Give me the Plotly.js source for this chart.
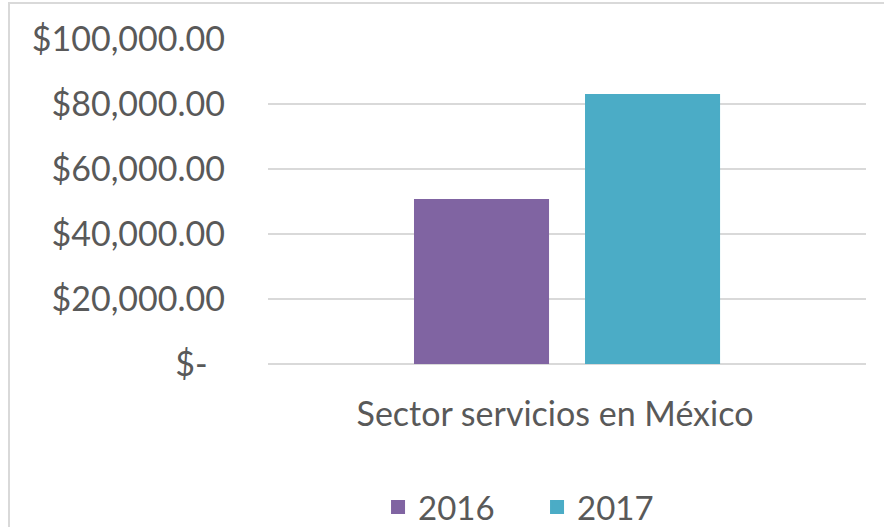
<!DOCTYPE html>
<html>
<head>
<meta charset="utf-8">
<script src="https://cdn.plot.ly/plotly-3.0.1.min.js"></script>
<style>
  html, body { margin: 0; padding: 0; background: #fff; overflow: hidden; }
  #chart { width: 884px; height: 527px; position: absolute; left: 0; top: 0; }
  #frame { position: absolute; left: 8px; top: 2px; width: 2000px; height: 2000px;
           border-left: 2px solid #d9d9d9; border-top: 2px solid #d9d9d9; pointer-events: none; }
</style>
</head>
<body>
<div id="chart"></div>
<div id="frame"></div>
<script>
const categories = ["Sector servicios en México"];
const seriesNames = ["2016", "2017"];
const values2016 = [50500];
const values2017 = [82800];
const tickValues = [0, 20000, 40000, 60000, 80000, 100000];
const tickLabels = ["$-\u00a0\u00a0", "$20,000.00", "$40,000.00", "$60,000.00", "$80,000.00", "$100,000.00"];

const FONT = "Lato, 'Open Sans', sans-serif";
const TXT = "#595959";

const traces = [
  { type: "bar", name: seriesNames[0], x: categories, y: values2016,
    marker: { color: "#8064A2", line: { color: "#8064A2", width: 2 } },
    width: 0.2225, offset: -0.2542, hoverinfo: "skip" },
  { type: "bar", name: seriesNames[1], x: categories, y: values2017,
    marker: { color: "#4BACC6", line: { color: "#4BACC6", width: 2 } },
    width: 0.2225, offset: 0.0318, hoverinfo: "skip" }
];

const layout = {
  width: 884, height: 527,
  margin: { l: 268, r: 18, t: 39, b: 163, pad: 0, autoexpand: false },
  paper_bgcolor: "#ffffff", plot_bgcolor: "#ffffff",
  font: { family: FONT, color: TXT, size: 34 },
  barmode: "overlay",
  showlegend: true,
  legend: { orientation: "h", x: 0.184, xanchor: "left", y: -0.44, yanchor: "middle",
            font: { family: FONT, size: 33, color: TXT }, itemwidth: 30, traceorder: "normal",
            entrywidth: 114 },
  xaxis: { type: "category", range: [-0.5, 0.5], showgrid: false, zeroline: false,
           showline: false, ticks: "", ticklabelstandoff: 27, ticklabelshift: -12,
           tickfont: { family: FONT, size: 34, color: TXT } },
  yaxis: { range: [0, 100000], tickmode: "array", tickvals: tickValues, ticktext: tickLabels,
           showgrid: true, gridcolor: "#d9d9d9", gridwidth: 2,
           zeroline: true, zerolinecolor: "#d9d9d9", zerolinewidth: 2,
           showline: false, ticks: "", ticklabelstandoff: 42,
           tickfont: { family: FONT, size: 34, color: TXT } }
};

Plotly.newPlot("chart", traces, layout, { staticPlot: true, displayModeBar: false });
</script>
</body>
</html>
